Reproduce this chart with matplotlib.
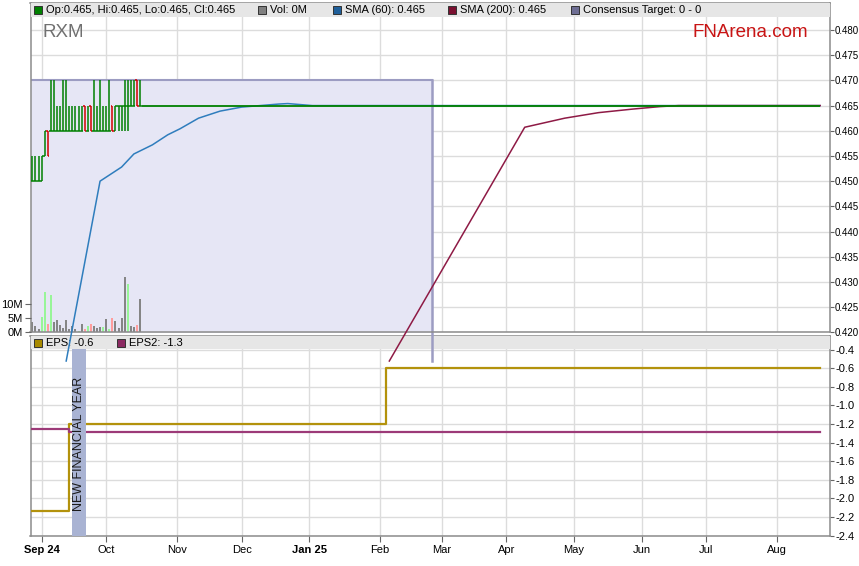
import numpy as np
import matplotlib
matplotlib.use('Agg')
import matplotlib.pyplot as plt
import matplotlib.transforms as mtransforms
from matplotlib.patches import Rectangle

plt.rcParams['font.family'] = ['Liberation Sans', 'DejaVu Sans']

BASE = '2024-08-28'   # first trading day shown, x axis counts trading days from here

# daily bars, one per trading day from BASE
opens  = [0.450, 0.450, 0.450, 0.450, 0.455, 0.460, 0.460, 0.460, 0.460, 0.460,
          0.460, 0.460, 0.460, 0.460, 0.460, 0.460, 0.460, 0.465, 0.460, 0.465,
          0.460, 0.460, 0.460, 0.460, 0.460, 0.460, 0.465, 0.460, 0.465, 0.465,
          0.465, 0.465, 0.465, 0.465, 0.470, 0.465]
highs  = [0.455, 0.455, 0.455, 0.455, 0.460, 0.460, 0.470, 0.470, 0.465, 0.465,
          0.470, 0.470, 0.465, 0.465, 0.465, 0.465, 0.465, 0.465, 0.465, 0.465,
          0.470, 0.465, 0.470, 0.465, 0.465, 0.470, 0.465, 0.465, 0.465, 0.465,
          0.470, 0.470, 0.470, 0.470, 0.470, 0.470]
lows   = [0.450, 0.450, 0.450, 0.450, 0.455, 0.455, 0.460, 0.460, 0.460, 0.460,
          0.460, 0.460, 0.460, 0.460, 0.460, 0.460, 0.460, 0.460, 0.460, 0.460,
          0.460, 0.460, 0.460, 0.460, 0.460, 0.460, 0.460, 0.460, 0.460, 0.460,
          0.460, 0.460, 0.465, 0.465, 0.465, 0.465]
closes = [0.450, 0.450, 0.450, 0.455, 0.460, 0.455, 0.460, 0.460, 0.460, 0.460,
          0.460, 0.460, 0.460, 0.460, 0.460, 0.460, 0.460, 0.460, 0.460, 0.460,
          0.460, 0.460, 0.460, 0.460, 0.460, 0.460, 0.460, 0.465, 0.465, 0.465,
          0.465, 0.465, 0.465, 0.465, 0.465, 0.465]
volume = [3.6, 2.1, 1.1, 5.5, 14.3, 2.9, 13.2, 3.7, 4.3, 2.5,
          1.7, 4.3, 1.3, 2.1, 1.0, 0.6, 2.9, 1.3, 2.1, 2.9,
          2.1, 1.4, 1.8, 1.8, 4.9, 1.1, 5.2, 3.9, 1.4, 5.0,
          19.6, 17.1, 2.1, 1.8, 2.5, 11.8]   # millions
vol_dir = 'nnnuudunnnnnnnnundudnnnunudnnnnunndn'   # u up, d down, n unchanged
last_close = 0.465
last_date = '2025-08-21'

sma60_dates = ['2024-09-12', '2024-09-27', '2024-10-08', '2024-10-14', '2024-10-22',
               '2024-10-29', '2024-11-04', '2024-11-12', '2024-11-21', '2024-12-02',
               '2024-12-10', '2024-12-18', '2024-12-23', '2025-01-02', '2025-08-21']
sma60_vals = [0.4143, 0.4500, 0.4528, 0.4554, 0.4572,
              0.4592, 0.4604, 0.4625, 0.4639, 0.4647,
              0.4650, 0.4653, 0.4654, 0.4650, 0.4650]

sma200_dates = ['2025-02-06', '2025-04-09', '2025-04-28', '2025-05-13', '2025-05-28',
                '2025-06-10', '2025-06-18', '2025-08-21']
sma200_vals = [0.4143, 0.4607, 0.4625, 0.4636, 0.4643,
               0.4648, 0.4650, 0.4650]

consensus_end = '2025-02-26'
consensus_high = 0.470
target_line_bottom = 0.4143

eps_dates = ['2024-08-28', '2024-09-13', '2025-02-05', '2025-08-21']
eps_vals = [-2.14, -1.2, -0.6, -0.6]
eps2_dates = ['2024-08-28', '2024-09-13', '2025-08-21']
eps2_vals = [-1.25, -1.29, -1.29]

fy_start, fy_end = '2024-09-16', '2024-09-20'

tick_dates = ['2024-09-02', '2024-10-01', '2024-11-01', '2024-12-02', '2025-01-01',
              '2025-02-03', '2025-03-03', '2025-04-01', '2025-05-01', '2025-06-02',
              '2025-07-01', '2025-08-01']
tick_labels = ['Sep 24', 'Oct', 'Nov', 'Dec', 'Jan 25', 'Feb', 'Mar', 'Apr',
               'May', 'Jun', 'Jul', 'Aug']
price_ticks = np.arange(0.420, 0.4801, 0.005)
eps_ticks = np.arange(-2.4, -0.39, 0.2)
vol_ticks = [0, 5, 10]


def pos(d):
    return np.busday_count(BASE, np.asarray(d, dtype='datetime64[D]')).astype(float)


GREEN, RED = '#008000', '#d00000'
GRID = '#dcdcdc'
SPINE = '#8c8c8c'
BAND = '#e6e6e6'

fig = plt.figure(figsize=(8.59, 5.66), dpi=100)
W, H = 859, 566
L, R = 30.5, 830
ax = fig.add_axes([L / W, 1 - 332.3 / H, (R - L) / W, (332.3 - 2.7) / H])
axe = fig.add_axes([L / W, 1 - 535.5 / H, (R - L) / W, (535.5 - 335.7) / H])
ax.set_zorder(3)
axe.set_zorder(1)
axv = ax.twinx()
axv.set_zorder(4)

xlim = (-0.6, 259.2)


def fx(px):
    # pixel column -> axes fraction
    return (px - L) / (R - L)


for a in (ax, axe):
    a.set_xlim(*xlim)
    a.set_xticks(pos(tick_dates))
    a.grid(True, color=GRID, lw=1)
    a.set_axisbelow(True)
    for s in a.spines.values():
        s.set_color(SPINE)
        s.set_linewidth(1.1)
    a.yaxis.tick_right()
    a.tick_params(axis='y', length=3, width=0.8, color='#666666', pad=1, labelsize=8)

# ---- price panel ----
ax.set_ylim(0.420, 0.48542)
ax.set_yticks(price_ticks)
ax.set_yticklabels(['%.3f' % v for v in price_ticks])
ax.tick_params(axis='y', labelsize=7, pad=0.6)
ax.tick_params(axis='x', length=0, labelbottom=False)

xe = pos(consensus_end)
ax.fill_between([xlim[0], xe], 0.40, consensus_high, color='#e6e6f5', lw=0, zorder=1)
ax.plot([xlim[0], xe], [consensus_high, consensus_high], color='#9c9cc2', lw=1.5, zorder=1.5)
ax.plot([xe, xe], [consensus_high, target_line_bottom], color='#9c9cc2', lw=1.8,
        zorder=1.5, clip_on=False)

# volume scale: 5M every 14 px
axv.set_ylim(0, 117.7)
axv.set_yticks(vol_ticks)
axv.set_yticklabels(['%dM' % v for v in vol_ticks])
axv.yaxis.tick_left()
axv.tick_params(axis='y', length=4, width=0.8, color='#666666', pad=1.5, labelsize=8)
for s in axv.spines.values():
    s.set_visible(False)

bar_pos = np.arange(len(closes))
vcol = {'u': '#98f598', 'd': '#ff9c9c', 'n': '#858585'}
vtrans = mtransforms.blended_transform_factory(ax.transData, axv.transData)
ax.bar(bar_pos, volume, width=0.65, color=[vcol[c] for c in vol_dir],
       transform=vtrans, zorder=2)

o, h, lo, c = map(np.array, (opens, highs, lows, closes))
bcol = [RED if cc < oo else GREEN for oo, cc in zip(o, c)]
ax.vlines(bar_pos, lo, h, colors=bcol, lw=1.1, zorder=3)
ax.hlines(o, bar_pos - 0.5, bar_pos, colors=bcol, lw=1.1, zorder=3)
ax.hlines(c, bar_pos, bar_pos + 0.5, colors=bcol, lw=1.1, zorder=3)

ax.plot(pos(sma60_dates), sma60_vals, color='#2f7dbd', lw=1.1, zorder=4, clip_on=False)
ax.plot(pos(sma200_dates), sma200_vals, color='#8e1a45', lw=1.1, zorder=4, clip_on=False)
ax.hlines(last_close, bar_pos[-1] + 0.5, pos(last_date), color=GREEN, lw=1.3, zorder=4.5)

ax.text(fx(42), 0.911, 'RXM', transform=ax.transAxes, fontsize=13.5, color='#707070',
        ha='left', va='center', zorder=6)
ax.text(fx(808), 0.911, 'FNArena.com', transform=ax.transAxes, fontsize=13.5,
        color='#c81414', ha='right', va='center', zorder=6)


def legend_band(a, frac, entries):
    a.add_patch(Rectangle((0, 1 - frac), 1, frac, transform=a.transAxes,
                          color=BAND, lw=0, zorder=5))
    yc = 1 - frac / 2
    for px, col, label in entries:
        a.plot([fx(px)], [yc], marker='s', ms=5.5, mfc=col, mec='#333333', mew=0.7,
               transform=a.transAxes, zorder=6, clip_on=False)
        a.text(fx(px + 8), yc, label, transform=a.transAxes, fontsize=8,
               ha='left', va='center', zorder=6)


legend_band(ax, 14 / 329.6, [
    (38, GREEN, 'Op:0.465, Hi:0.465, Lo:0.465, Cl:0.465'),
    (262, '#808080', 'Vol: 0M'),
    (337, '#1f5f9a', 'SMA (60): 0.465'),
    (452, '#7a1030', 'SMA (200): 0.465'),
    (575, '#6e6e94', 'Consensus Target: 0 - 0'),
])

# ---- EPS panel ----
band_frac = 13.6 / 199.8
axe.set_ylim(-2.4, -0.249)
axe.set_yticks(eps_ticks)
axe.set_yticklabels(['%.1f' % v for v in eps_ticks])
axe.set_xticklabels(tick_labels)
axe.tick_params(axis='x', length=4, width=0.8, color='#666666', pad=3, labelsize=8)
for lab in axe.get_xticklabels():
    if ' ' in lab.get_text():
        lab.set_fontweight('bold')

axe.plot(pos(eps_dates), eps_vals, drawstyle='steps-post', color='#b3920c', lw=1.6, zorder=3)
axe.plot(pos(eps2_dates), eps2_vals, drawstyle='steps-post', color='#9c3a78', lw=1.6, zorder=3)

f0, f1 = pos(fy_start), pos(fy_end) + 0.5
axe.axvspan(f0, f1, ymin=0, ymax=1 - band_frac, color='#a9b3d3', lw=0, zorder=4)
axe.text((f0 + f1) / 2, -1.415, 'NEW FINANCIAL YEAR', rotation=90, ha='center',
         va='center', fontsize=9, color='#1a1a1a', zorder=6)

legend_band(axe, band_frac, [
    (38, '#a88a00', 'EPS: -0.6'),
    (121, '#8b2a62', 'EPS2: -1.3'),
])

fig.savefig('out.png', dpi=100, facecolor='white')
